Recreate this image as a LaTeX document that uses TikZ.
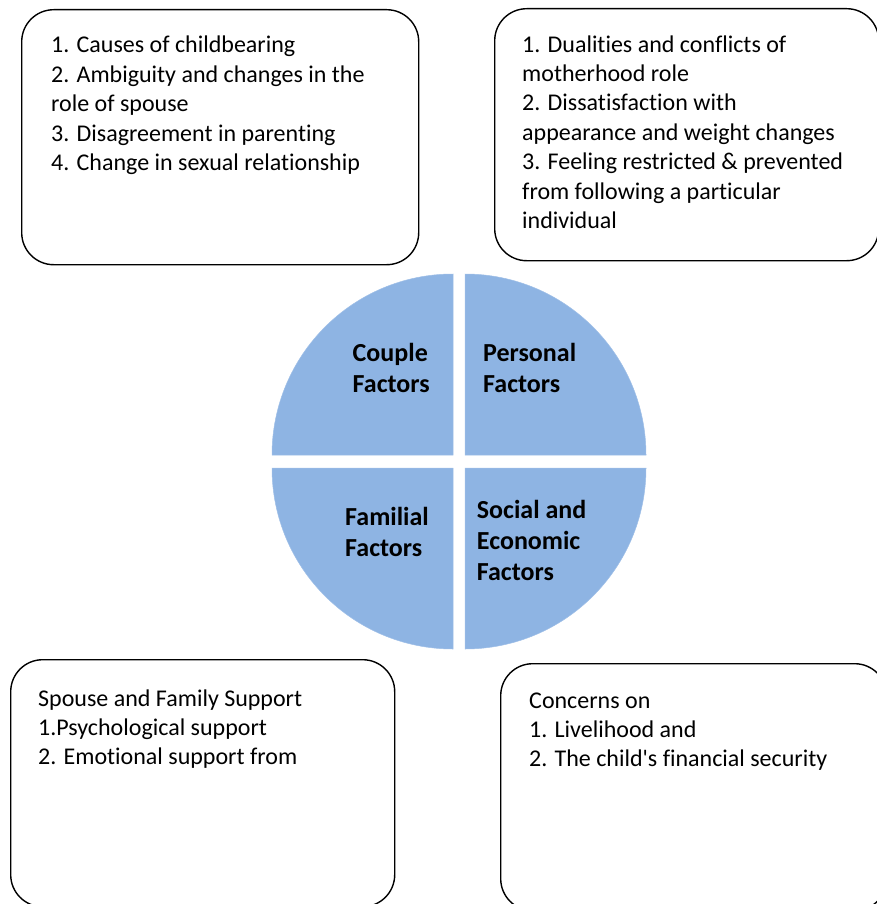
\documentclass[tikz,border=0pt]{standalone}
\usepackage{fontspec}
\setmainfont{Carlito}[RawFeature={-liga;-clig;-calt}]
\definecolor{quadblue}{HTML}{8EB4E3}

\begin{document}
\begin{tikzpicture}[
  x=1pt, y=-1pt,
  roundbox/.style={draw, line width=1.4pt, rounded corners=32pt,
    anchor=north west, inner sep=0pt},
  listtext/.style={anchor=base west, align=left, inner sep=0pt,
    font=\fontsize{24}{29.4}\selectfont},
  factor/.style={anchor=base west, align=left, inner sep=0pt,
    font=\bfseries\fontsize{26}{31}\selectfont},
  quadrant/.style={fill=quadblue, draw=quadblue!85!white, line width=0.5pt}]
  \useasboundingbox (0,0) rectangle (876,904);

  % the four boxes
  \node[roundbox, minimum width=397pt, minimum height=255pt] (couplebox) at (21,9) {};
  \node[roundbox, minimum width=384pt, minimum height=252pt] (personalbox) at (494,8) {};
  \node[roundbox, minimum width=384pt, minimum height=247pt] (familybox) at (10,659) {};
  \node[roundbox, minimum width=386pt, minimum height=247pt] (socialbox) at (500,663) {};

  % texts sit on the baseline of their last line
  \node[listtext] (coupletext) at (51,170.6)
    {1. Causes of childbearing\\2. Ambiguity and changes in the\\role of spouse\\
     3. Disagreement in parenting\\4. Change in sexual relationship};
  \node[listtext] (personaltext) at (522,228.4)
    {1. Dualities and conflicts of\\motherhood role\\2. Dissatisfaction with\\
     appearance and weight changes\\3. Feeling restricted \& prevented\\
     from following a particular\\individual};
  \node[listtext] (familytext) at (38,764.8)
    {Spouse and Family Support\\1.Psychological support\\2. Emotional support from};
  \node[listtext] (socialtext) at (529,766.8)
    {Concerns on\\1. Livelihood and\\2. The child\textquotesingle s financial security};

  % the circle, cut in four
  \fill[quadrant] (453,455) -- (272,455) arc[start angle=180, end angle=270, radius=181] -- cycle;
  \fill[quadrant] (465,455) -- (465,274) arc[start angle=270, end angle=360, radius=181] -- cycle;
  \fill[quadrant] (465,468) -- (646,468) arc[start angle=0, end angle=90, radius=181] -- cycle;
  \fill[quadrant] (453,468) -- (453,649) arc[start angle=90, end angle=180, radius=181] -- cycle;

  \node[factor] (couple) at (352.5,392.2) {Couple\\Factors};
  \node[factor] (personal) at (483,392.2) {Personal\\Factors};
  \node[factor] (familial) at (345,556.5) {Familial\\Factors};
  \node[factor] (social) at (476.7,580) {Social and\\Economic\\Factors};
\end{tikzpicture}
\end{document}
